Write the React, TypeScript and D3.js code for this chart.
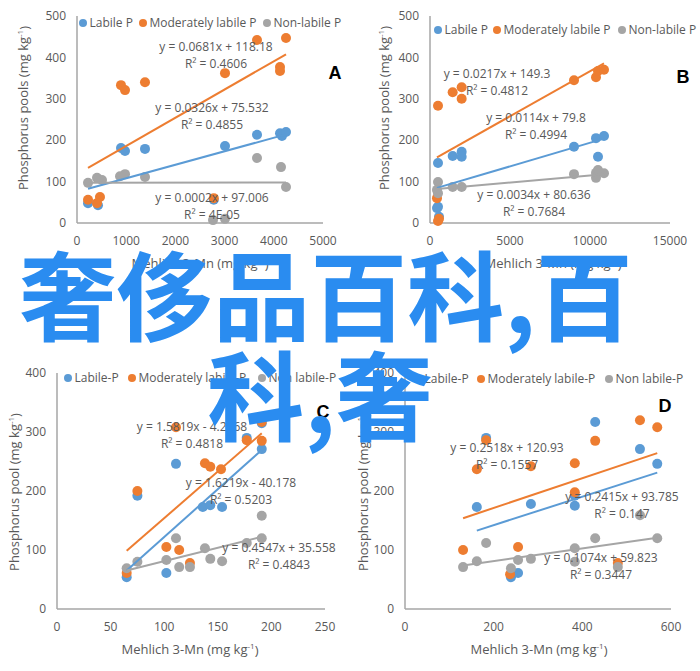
import React from "react";
import * as d3 from "d3";

type Pt = [number, number];

// ---------- DATA ----------
const namesAB = ["Labile P", "Moderately labile P", "Non-labile P"];
const namesCD = ["Labile-P", "Moderately labile-P", "Non labile-P"];
const seriesColors = ["#5B9BD5", "#ED7D31", "#A5A5A5"];

const aLabile: Pt[] = [[894, 181], [976, 174], [1382, 179], [3008, 186], [3659, 213], [4126, 217], [4166, 210], [4248, 220], [224, 48], [427, 43], [2780, 56]];
const aModerate: Pt[] = [[894, 333], [976, 321], [1382, 340], [3008, 362], [3659, 442], [4126, 377], [4126, 367], [4248, 447], [224, 56], [467, 63], [407, 48], [2780, 60]];
const aNon: Pt[] = [[224, 97], [407, 109], [508, 104], [874, 113], [976, 118], [1382, 111], [4248, 87], [2764, 7], [3008, 10], [3659, 157], [4146, 135]];

const bLabile: Pt[] = [[500, 145], [1417, 162], [1979, 172], [1979, 160], [9000, 184], [10375, 205], [10875, 210], [10500, 160], [437, 36], [500, 39], [562, 15]];
const bModerate: Pt[] = [[500, 283], [1417, 316], [1979, 328], [1979, 300], [9000, 345], [10375, 352], [10500, 367], [10875, 370], [437, 60], [562, 10], [500, 5]];
const bNon: Pt[] = [[500, 99], [437, 80], [500, 72], [1417, 87], [1979, 87], [9000, 118], [10375, 121], [10375, 109], [10875, 120], [10500, 128]];

const cLabile: Pt[] = [[75, 192], [111, 246], [177, 290], [191, 315], [191, 271], [136, 173], [143, 176], [154, 173], [65, 54], [102, 61]];
const cModerate: Pt[] = [[75, 200], [111, 308], [138, 247], [143, 241], [153, 237], [177, 286], [191, 317], [191, 285], [65, 61], [102, 105], [114, 100], [124, 78]];
const cNon: Pt[] = [[65, 69], [75, 80], [102, 83], [111, 120], [114, 71], [124, 71], [138, 103], [143, 85], [154, 81], [177, 112], [191, 158], [191, 120]];

const dLabile: Pt[] = [[183, 290], [429, 317], [530, 271], [569, 246], [162, 173], [284, 178], [383, 175], [383, 192], [239, 54], [255, 61]];
const dModerate: Pt[] = [[162, 237], [183, 286], [284, 242], [383, 247], [429, 285], [530, 320], [569, 308], [383, 198], [131, 100], [255, 105], [237, 59], [480, 78]];
const dNon: Pt[] = [[131, 71], [162, 81], [183, 112], [239, 69], [255, 83], [284, 85], [383, 103], [383, 80], [429, 120], [530, 159], [569, 120], [480, 71]];

// trend coefficients [slope, intercept] per series (labile, moderate, non)
const aTrend: Pt[] = [[0.0326, 75.532], [0.0681, 118.18], [0.0002, 97.006]];
const bTrend: Pt[] = [[0.0114, 79.8], [0.0217, 149.3], [0.0034, 80.636]];
const cTrend: Pt[] = [[1.6219, -40.178], [1.5819, -4.2768], [0.4547, 35.558]];
const dTrend: Pt[] = [[0.2415, 93.785], [0.2518, 120.93], [0.1074, 59.823]];

const aEq = ["y = 0.0326x + 75.532", "y = 0.0681x + 118.18", "y = 0.0002x + 97.006"];
const aR2 = ["R² = 0.4855", "R² = 0.4606", "R² = 4E-05"];
const bEq = ["y = 0.0114x + 79.8", "y = 0.0217x + 149.3", "y = 0.0034x + 80.636"];
const bR2 = ["R² = 0.4994", "R² = 0.4812", "R² = 0.7684"];
const cEq = ["y = 1.6219x - 40.178", "y = 1.5819x - 4.2768", "y = 0.4547x + 35.558"];
const cR2 = ["R² = 0.5203", "R² = 0.4818", "R² = 0.4843"];
const dEq = ["y = 0.2415x + 93.785", "y = 0.2518x + 120.93", "y = 0.1074x + 59.823"];
const dR2 = ["R² = 0.147", "R² = 0.1557", "R² = 0.3447"];

const abXTicks = [[0, 1000, 2000, 3000, 4000, 5000], [0, 5000, 10000, 15000]];
const abYTicks = [0, 100, 200, 300, 400, 500];
const cXTicks = [0, 50, 100, 150, 200, 250];
const dXTicks = [0, 200, 400, 600];
const cdYTicks = [0, 100, 200, 300, 400];

const yTitleAB = "Phosphorus pools (mg kg";
const yTitleCD = "Phosphorus pool (mg kg";
const xTitle = "Mehlich 3-Mn (mg kg";

const overlayLines = ["奢侈品百科,百", "科,奢"];

// ---------- LAYOUT ----------
type Panel = {
  letter: string;
  series: Pt[][];
  trend: Pt[];
  eq: string[];
  r2: string[];
  names: string[];
  xTicks: number[];
  yTicks: number[];
  x0: number; x1: number; y0: number; y1: number;
  yTitle: string; yTitleX: number; yTitleY: number;
  xTitleX: number; xTitleY: number;
  legendY: number; legendX: number[];
  letterX: number; letterY: number;
  labelPos: Pt[];
};

const panels: Panel[] = [
  {
    letter: "A", series: [aLabile, aModerate, aNon], trend: aTrend, eq: aEq, r2: aR2, names: namesAB,
    xTicks: abXTicks[0], yTicks: abYTicks, x0: 77, x1: 323, y0: 223, y1: 16,
    yTitle: yTitleAB, yTitleX: 23, yTitleY: 108, xTitleX: 200, xTitleY: 263,
    legendY: 23, legendX: [83, 143, 267], letterX: 335, letterY: 73,
    labelPos: [[212, 108], [216, 47], [212, 198]],
  },
  {
    letter: "B", series: [bLabile, bModerate, bNon], trend: bTrend, eq: bEq, r2: bR2, names: namesAB,
    xTicks: abXTicks[1], yTicks: abYTicks, x0: 430, x1: 670, y0: 223, y1: 16,
    yTitle: yTitleAB, yTitleX: 384, yTitleY: 108, xTitleX: 553, xTitleY: 263,
    legendY: 30, legendX: [438, 497, 622], letterX: 683, letterY: 77,
    labelPos: [[536, 118], [497, 74], [534, 195]],
  },
  {
    letter: "C", series: [cLabile, cModerate, cNon], trend: cTrend, eq: cEq, r2: cR2, names: namesCD,
    xTicks: cXTicks, yTicks: cdYTicks, x0: 57, x1: 325, y0: 609, y1: 373,
    yTitle: yTitleCD, yTitleX: 14, yTitleY: 492, xTitleX: 190, xTitleY: 649,
    legendY: 378, legendX: [68, 132, 262], letterX: 323, letterY: 412,
    labelPos: [[241, 483], [192, 427], [279, 548]],
  },
  {
    letter: "D", series: [dLabile, dModerate, dNon], trend: dTrend, eq: dEq, r2: dR2, names: namesCD,
    xTicks: dXTicks, yTicks: cdYTicks, x0: 405, x1: 671, y0: 609, y1: 373,
    yTitle: yTitleCD, yTitleX: 363, yTitleY: 492, xTitleX: 539, xTitleY: 649,
    legendY: 379, legendX: [418, 481, 609], letterX: 665, letterY: 406,
    labelPos: [[622, 497], [507, 448], [601, 558]],
  },
];

const FONT = "'Open Sans', 'Noto Sans', sans-serif";
const TEXT = "#595959";
const AXIS = "#A6A6A6";

function ChartPanel({ p }: { p: Panel }) {
  const xMax = p.xTicks[p.xTicks.length - 1];
  const yMax = p.yTicks[p.yTicks.length - 1];
  const x = d3.scaleLinear().domain([0, xMax]).range([p.x0, p.x1]);
  const y = d3.scaleLinear().domain([0, yMax]).range([p.y0, p.y1]);
  const line = d3.line<Pt>().x((d) => x(d[0])).y((d) => y(d[1]));
  return (
    <g>
      {/* axes */}
      <line x1={p.x0} x2={p.x0} y1={p.y0} y2={p.y1} stroke={AXIS} strokeWidth={1.5} />
      <line x1={p.x0} x2={p.x1} y1={p.y0} y2={p.y0} stroke={AXIS} strokeWidth={1.5} />
      {p.yTicks.map((t) => (
        <text key={"y" + t} x={p.x0 - 11} y={y(t)} dy="0.35em" textAnchor="end" fontSize={12} fill={TEXT} fontFamily={FONT}>{t}</text>
      ))}
      {p.xTicks.map((t) => (
        <text key={"x" + t} x={x(t)} y={p.y0 + 18} dy="0.35em" textAnchor="middle" fontSize={12} fill={TEXT} fontFamily={FONT}>{t}</text>
      ))}
      {/* titles */}
      <text transform={`translate(${p.yTitleX},${p.yTitleY}) rotate(-90)`} dy="0.35em" textAnchor="middle" fontSize={13} fill={TEXT} fontFamily={FONT}>
        {p.yTitle}<tspan fontSize={8} dy="-0.6em">-1</tspan><tspan dy="0.45em">)</tspan>
      </text>
      <text x={p.xTitleX} y={p.xTitleY} dy="0.35em" textAnchor="middle" fontSize={13} fill={TEXT} fontFamily={FONT}>
        {xTitle}<tspan fontSize={8} dy="-0.6em">-1</tspan><tspan dy="0.45em">)</tspan>
      </text>
      {/* points */}
      {p.series.map((s, i) =>
        s.map((d, j) => <circle key={i + "-" + j} cx={x(d[0])} cy={y(d[1])} r={5} fill={seriesColors[i]} />)
      )}
      {/* trend lines */}
      {p.series.map((s, i) => {
        const ext = d3.extent(s, (d) => d[0]) as [number, number];
        const [m, b] = p.trend[i];
        const pts: Pt[] = ext.map((v) => [v, m * v + b] as Pt);
        return <path key={"t" + i} d={line(pts) || ""} stroke={seriesColors[i]} strokeWidth={2} fill="none" />;
      })}
      {/* equation labels */}
      {p.eq.map((e, i) => (
        <g key={"e" + i}>
          <text x={p.labelPos[i][0]} y={p.labelPos[i][1]} dy="0.35em" textAnchor="middle" fontSize={12} fill={TEXT} fontFamily={FONT}>{e}</text>
          <text x={p.labelPos[i][0]} y={p.labelPos[i][1] + 16.5} dy="0.35em" textAnchor="middle" fontSize={12} fill={TEXT} fontFamily={FONT}>{p.r2[i]}</text>
        </g>
      ))}
      {/* legend */}
      {p.names.map((n, i) => (
        <g key={"l" + i}>
          <circle cx={p.legendX[i]} cy={p.legendY} r={4} fill={seriesColors[i]} />
          <text x={p.legendX[i] + 6.5} y={p.legendY} dy="0.35em" fontSize={12} fill={TEXT} fontFamily={FONT}>{n}</text>
        </g>
      ))}
      <text x={p.letterX} y={p.letterY} dy="0.35em" textAnchor="middle" fontSize={18} fontWeight="bold" fill="#000" fontFamily="'Liberation Sans', Arial, sans-serif">{p.letter}</text>
    </g>
  );
}

export default function App() {
  return (
    <svg width={700} height={671} style={{ position: "absolute", left: 0, top: 0, background: "#fff" }}>
      <rect width={700} height={671} fill="#fff" />
      {panels.map((p) => <ChartPanel key={p.letter} p={p} />)}
      <g fontFamily="'Noto Sans CJK SC', sans-serif" fontWeight="bold" fontSize={97} fill="#2A8CF0" textAnchor="middle">
        <text x={326} y={333}>{overlayLines[0]}</text>
        <text x={320} y={433}>{overlayLines[1]}</text>
      </g>
    </svg>
  );
}
